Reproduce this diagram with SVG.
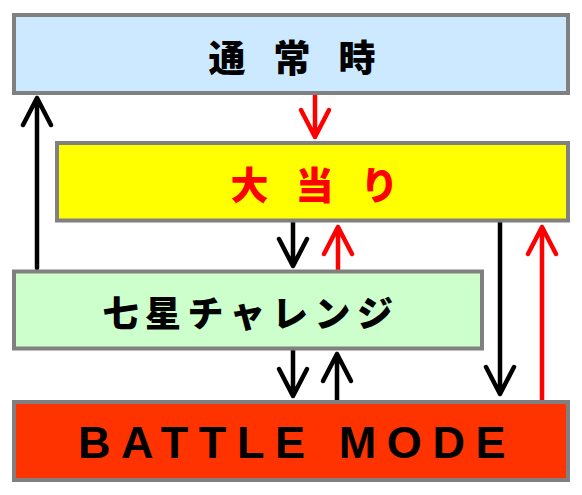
<svg xmlns="http://www.w3.org/2000/svg" width="582" height="495" viewBox="0 0 582 495">
<style>
.box{stroke:#808080;stroke-width:4}
.jp{font-family:"Noto Sans CJK JP","Noto Sans CJK SC",sans-serif;font-weight:900;text-anchor:middle;dominant-baseline:central}
.en{font-family:"Liberation Sans",Arial,sans-serif;font-weight:bold;text-anchor:middle;dominant-baseline:central}
.a{fill:none;stroke-width:4.5;stroke-linecap:round;stroke-linejoin:round}
.k{stroke:#000}
.r{stroke:#ff0000}
</style>
<rect width="582" height="495" fill="#fff"/>
<g id="connectors">
<path class="a r" d="M315 95V137M301 110L315 137L329 110"/>
<path class="a k" d="M37 268V98M23 125L37 98L51 125"/>
<path class="a k" d="M293 222V266M279 239L293 266L307 239"/>
<path class="a r" d="M338 269V227M324 254L338 227L352 254"/>
<path class="a k" d="M500 222V394M486 367L500 394L514 367"/>
<path class="a r" d="M542 400V227M528 254L542 227L556 254"/>
<path class="a k" d="M293 350V396M279 369L293 396L307 369"/>
<path class="a k" d="M337 400V354M323 381L337 354L351 381"/>
</g>
<g id="normal">
<rect class="box" x="14" y="15" width="554" height="78" fill="#cce9ff"/>
<text class="jp" x="306" y="56" font-size="37" letter-spacing="28">通常時</text>
</g>
<g id="bigwin">
<rect class="box" x="57" y="143" width="511" height="77.5" fill="#ffff00"/>
<text class="jp" x="328" y="182" font-size="38" letter-spacing="27" fill="#ff0000">大当り</text>
</g>
<g id="challenge">
<rect class="box" x="14" y="271.5" width="468" height="77" fill="#ccffcc"/>
<text class="jp" x="251" y="311" font-size="36" letter-spacing="6.5">七星チャレンジ</text>
</g>
<g id="battle">
<rect class="box" x="14" y="402" width="554" height="78" fill="#ff3300"/>
<text class="en" x="297" y="442" font-size="45" letter-spacing="10.6">BATTLE MODE</text>
</g>
</svg>
